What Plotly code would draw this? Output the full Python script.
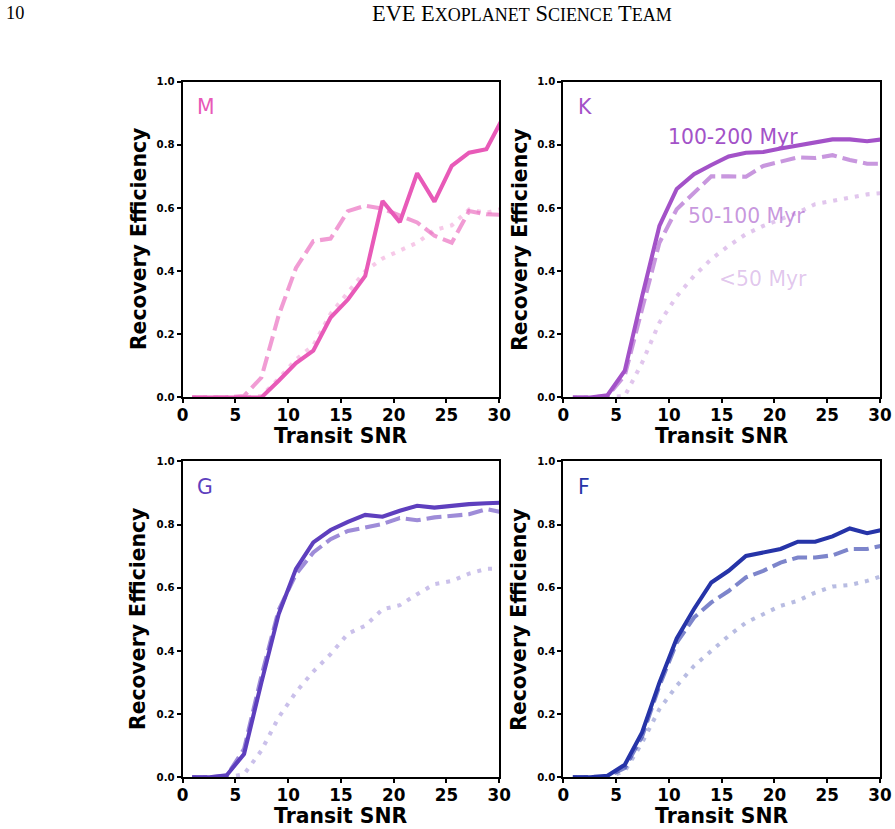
import plotly.graph_objects as go

W, H = 895, 829
# the photographed page comes out slightly shrunk (about 0.978 x 0.987, offset ~5.7px);
# figure-space positions are pre-compensated so the picture lands on the reference pixels
KX, KY, OFF = 0.978, 0.987, 5.7
FS = 1 / 0.982

# Transit SNR grid (bin centres)
snr = [0.9, 2.54, 4.18, 5.82, 7.46, 9.1, 10.74, 12.38, 14.02, 15.66, 17.3,
       18.94, 20.58, 22.22, 23.86, 25.5, 27.14, 28.78, 30.42]

# Recovery efficiency: 100-200 Myr (solid), 50-100 Myr (dashed), <50 Myr (dotted)
M_old = [0, 0, 0, 0, 0, 0.053, 0.109, 0.148, 0.253, 0.31, 0.385, 0.622, 0.555, 0.71, 0.62, 0.733, 0.775, 0.786, 0.89]
M_mid = [0, 0, 0, 0.005, 0.063, 0.26, 0.41, 0.495, 0.503, 0.59, 0.607, 0.598, 0.575, 0.554, 0.512, 0.49, 0.59, 0.58, 0.578]
M_young = [0, 0, 0, 0, 0.005, 0.06, 0.12, 0.165, 0.265, 0.335, 0.40, 0.44, 0.464, 0.49, 0.53, 0.545, 0.595, 0.585, 0.598]

K_old = [0, 0, 0.007, 0.085, 0.32, 0.543, 0.66, 0.707, 0.736, 0.763, 0.775, 0.777, 0.788, 0.798, 0.809, 0.817, 0.817, 0.811, 0.818]
K_mid = [0, 0, 0.005, 0.07, 0.28, 0.49, 0.596, 0.649, 0.70, 0.70, 0.699, 0.733, 0.746, 0.76, 0.758, 0.767, 0.752, 0.74, 0.74]
K_young = [0, 0, 0, 0.005, 0.11, 0.237, 0.32, 0.385, 0.438, 0.48, 0.517, 0.543, 0.564, 0.585, 0.612, 0.622, 0.633, 0.643, 0.648]

G_old = [0, 0, 0.007, 0.074, 0.30, 0.517, 0.66, 0.744, 0.783, 0.809, 0.831, 0.825, 0.844, 0.86, 0.854, 0.86, 0.865, 0.868, 0.87]
G_mid = [0, 0, 0.005, 0.09, 0.32, 0.53, 0.643, 0.712, 0.754, 0.78, 0.791, 0.802, 0.821, 0.814, 0.823, 0.828, 0.833, 0.849, 0.838]
G_young = [0, 0, 0, 0.01, 0.085, 0.19, 0.27, 0.335, 0.39, 0.455, 0.48, 0.532, 0.545, 0.58, 0.612, 0.622, 0.645, 0.66, 0.662]

F_old = [0, 0, 0.005, 0.04, 0.142, 0.30, 0.44, 0.533, 0.617, 0.654, 0.701, 0.712, 0.723, 0.746, 0.746, 0.763, 0.788, 0.773, 0.785]
F_mid = [0, 0, 0.003, 0.03, 0.13, 0.29, 0.427, 0.506, 0.554, 0.59, 0.633, 0.654, 0.68, 0.696, 0.696, 0.703, 0.723, 0.723, 0.735]
F_young = [0, 0, 0, 0.02, 0.11, 0.216, 0.29, 0.353, 0.40, 0.448, 0.49, 0.517, 0.543, 0.559, 0.585, 0.604, 0.609, 0.622, 0.64]

x_ticks = [0, 5, 10, 15, 20, 25, 30]
y_ticks = [0.0, 0.2, 0.4, 0.6, 0.8, 1.0]
age_labels = ["100-200 Myr", "50-100 Myr", "<50 Myr"]

panels = [
    ("M", (232, 90, 184), [M_old, M_mid, M_young]),
    ("K", (163, 82, 200), [K_old, K_mid, K_young]),
    ("G", (94, 63, 190), [G_old, G_mid, G_young]),
    ("F", (38, 52, 168), [F_old, F_mid, F_young]),
]

alphas = [1.0, 0.6, 0.33]
dashes = ["solid", "15px,6px", "4px,7px"]

# target pixel geometry of axes in the picture
px_x = [(182, 498), (562, 878)]
px_y = [(82.3, 398.3), (462.3, 778.3)]


def fx(px):
    return ((px - OFF) / KX) / W


def fy(py):
    return 1 - ((py - OFF) / KY) / H


def rgba(c, a):
    return f"rgba({c[0]},{c[1]},{c[2]},{a})"


fig = go.Figure()
annotations = []
layout_axes = {}

for i, (name, col, series) in enumerate(panels):
    r, c = divmod(i, 2)
    idx = "" if i == 0 else str(i + 1)
    xa, ya = "x" + idx, "y" + idx
    x0, x1 = px_x[c]
    y0, y1 = px_y[r]
    for s, a, d in zip(series, alphas, dashes):
        fig.add_trace(go.Scatter(x=snr, y=s, mode="lines", xaxis=xa, yaxis=ya,
                                 line=dict(color=rgba(col, a), width=4 * FS, dash=d),
                                 showlegend=False, hoverinfo="skip"))
    common = dict(showline=True, linecolor="black", linewidth=2, mirror=True,
                  ticks="outside", ticklen=4, tickwidth=1.5, tickcolor="black",
                  showgrid=False, zeroline=False)
    layout_axes["xaxis" + idx] = dict(
        domain=[fx(x0), fx(x1)], anchor=ya, range=[0, 30], tickvals=x_ticks,
        tickfont=dict(family="DejaVu Sans", size=16.5 * FS, color="black", weight="bold"),
        **common)
    layout_axes["yaxis" + idx] = dict(
        domain=[fy(y1), fy(y0)], anchor=xa, range=[0, 1], tickvals=y_ticks,
        tickformat=".1f",
        tickfont=dict(family="DejaVu Sans", size=10 * FS, color="black", weight="bold"),
        **common)
    # panel letter
    annotations.append(dict(x=1.2, y=0.92, xref=xa, yref=ya, text=name,
                            showarrow=False, xanchor="left", yanchor="middle",
                            font=dict(family="DejaVu Sans", size=20 * FS, color=rgba(col, 1))))
    # axis titles
    annotations.append(dict(x=fx((x0 + x1) / 2), y=fy(y1 + 39), xref="paper", yref="paper",
                            text="<b>Transit SNR</b>", showarrow=False,
                            xanchor="center", yanchor="middle",
                            font=dict(family="DejaVu Sans", size=20 * FS, color="black")))
    annotations.append(dict(x=fx(x0 - 44), y=fy((y0 + y1) / 2), xref="paper", yref="paper",
                            text="<b>Recovery Efficiency</b>", showarrow=False, textangle=-90,
                            xanchor="center", yanchor="middle",
                            font=dict(family="DejaVu Sans", size=20 * FS, color="black")))

# age labels in K panel
k_col = panels[1][1]
for txt, a, (lx, ly) in zip(age_labels, alphas, [(9.7, 0.823), (11.6, 0.575), (14.6, 0.374)]):
    annotations.append(dict(x=lx, y=ly, xref="x2", yref="y2", text=txt, showarrow=False,
                            xanchor="left", yanchor="middle",
                            font=dict(family="DejaVu Sans", size=20 * FS, color=rgba(k_col, a))))

# running header
annotations.append(dict(x=fx(4), y=fy(14), xref="paper", yref="paper", text="10",
                        showarrow=False, xanchor="left", yanchor="middle",
                        font=dict(family="Liberation Serif", size=18 * FS, color="black")))
sc = "<span style='font-size:%dpx'>{}</span>" % round(18 * FS)
header = ("EVE E" + sc.format("XOPLANET") + " S" + sc.format("CIENCE") + " T" + sc.format("EAM"))
annotations.append(dict(x=fx(521), y=fy(14), xref="paper", yref="paper", text=header,
                        showarrow=False, xanchor="center", yanchor="middle",
                        font=dict(family="Liberation Serif", size=22 * FS, color="black")))

fig.update_layout(width=W, height=H, margin=dict(l=0, r=0, t=0, b=0),
                  paper_bgcolor="white", plot_bgcolor="white",
                  annotations=annotations, **layout_axes)
try:
    fig.update_xaxes(ticklabelstandoff=-3)
except ValueError:
    pass

fig.write_html("out.html",
               post_script="document.body.style.margin='0';"
                           "document.body.style.overflow='hidden';")
